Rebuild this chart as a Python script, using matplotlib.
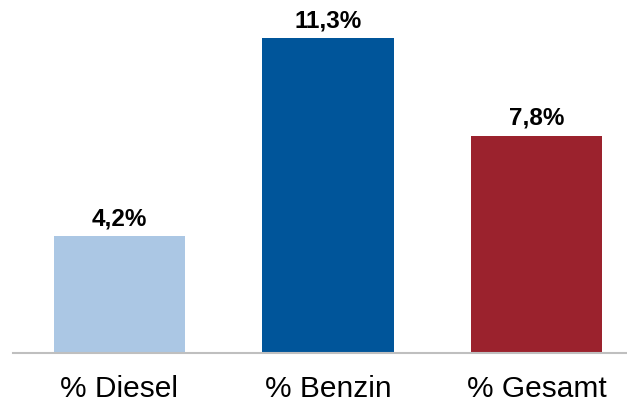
import matplotlib.pyplot as plt
import numpy as np

plt.rcParams['font.family'] = ['Liberation Sans', 'DejaVu Sans']

categories = ['% Diesel', '% Benzin', '% Gesamt']
values = [4.2, 11.3, 7.8]
labels = ['4,2%', '11,3%', '7,8%']
colors = ['#ABC7E4', '#00559A', '#9B222D']

fig = plt.figure(figsize=(6.27, 4.03), dpi=100)
ax = fig.add_axes([13/627, 50/403, 1 - 13/627, 353/403])

x = np.arange(len(categories))
ax.bar(x, values, width=0.63, color=colors)
for xi, v, lab in zip(x, values, labels):
    ax.annotate(lab, (xi, v), xytext=(0, 4), textcoords='offset points',
                ha='center', va='bottom', fontsize=17.5, fontweight='bold')

ax.set_xlim(-0.51, 2.434)
ax.set_ylim(0, 12.66)
ax.set_xticks(x)
ax.set_xticklabels(categories, fontsize=21.5)
ax.tick_params(axis='x', length=0, pad=16)
ax.set_yticks([])
for s in ['top', 'right', 'left']:
    ax.spines[s].set_visible(False)
ax.spines['bottom'].set_color('#BFBFBF')
ax.spines['bottom'].set_linewidth(1.5)

fig.savefig('out.png', dpi=100)
